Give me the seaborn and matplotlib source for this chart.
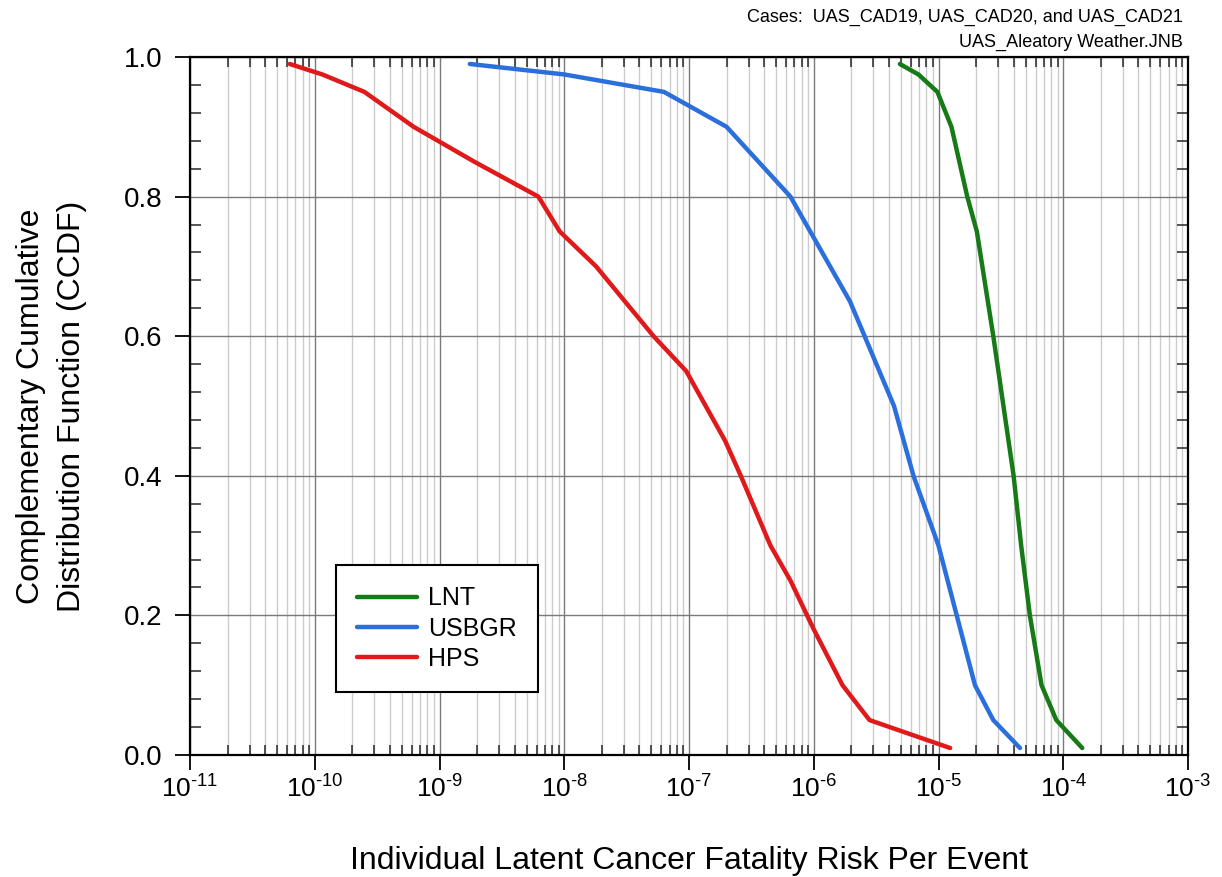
import numpy as np
import pandas as pd
import matplotlib
matplotlib.use('Agg')
import matplotlib.pyplot as plt
import matplotlib.ticker as mticker
import seaborn as sns

# CCDF curves
lnt_risk = [4.9e-6, 6.9e-6, 9.8e-6, 1.27e-5, 1.7e-5, 2.03e-5, 2.75e-5, 4.0e-5, 4.6e-5, 5.4e-5, 6.7e-5, 8.8e-5, 1.42e-4]
lnt_ccdf = [0.99, 0.975, 0.95, 0.90, 0.80, 0.75, 0.60, 0.40, 0.30, 0.20, 0.10, 0.05, 0.01]

usbgr_risk = [1.75e-9, 1.0e-8, 6.3e-8, 2.0e-7, 6.5e-7, 1.95e-6, 4.4e-6, 6.3e-6, 1.0e-5, 1.4e-5, 1.96e-5, 2.75e-5, 4.5e-5]
usbgr_ccdf = [0.99, 0.975, 0.95, 0.90, 0.80, 0.65, 0.50, 0.40, 0.30, 0.20, 0.10, 0.05, 0.01]

hps_risk = [6.3e-11, 1.15e-10, 2.5e-10, 6.2e-10, 1.9e-9, 6.2e-9, 9.2e-9, 1.8e-8, 5.2e-8, 9.5e-8,
            1.95e-7, 2.6e-7, 4.5e-7, 6.5e-7, 1.0e-6, 1.7e-6, 2.8e-6, 1.24e-5]
hps_ccdf = [0.99, 0.975, 0.95, 0.90, 0.85, 0.80, 0.75, 0.70, 0.60, 0.55,
            0.45, 0.40, 0.30, 0.25, 0.18, 0.10, 0.05, 0.01]

series_names = ['LNT', 'USBGR', 'HPS']
series_colors = ['#167a16', '#2b6fdc', '#e0191b']

dfs = []
for name, xs, ys in zip(series_names, [lnt_risk, usbgr_risk, hps_risk], [lnt_ccdf, usbgr_ccdf, hps_ccdf]):
    dfs.append(pd.DataFrame({'risk': xs, 'ccdf': ys, 'model': name}))
data = pd.concat(dfs, ignore_index=True)

sns.set_theme(style="white")
plt.rcParams['font.family'] = ['Liberation Sans', 'DejaVu Sans']
plt.rcParams['text.color'] = 'black'
plt.rcParams['axes.labelcolor'] = 'black'
plt.rcParams['mathtext.fontset'] = 'custom'
plt.rcParams['mathtext.rm'] = 'Liberation Sans'
plt.rcParams['mathtext.it'] = 'Liberation Sans:italic'
plt.rcParams['mathtext.default'] = 'regular'


def decade_label(val, pos):
    exp = int(round(np.log10(val)))
    return r'$10^{\text{%s}}$' % str(exp)


fig = plt.figure(figsize=(12.22, 8.77), dpi=100)
ax = fig.add_axes([190 / 1222, 122 / 877, 998 / 1222, 698 / 877])

sns.lineplot(data=data, x='risk', y='ccdf', hue='model', hue_order=series_names,
             palette=series_colors, sort=False, estimator=None, linewidth=3.2, ax=ax)

ax.set_xscale('log')
ax.set_xlim(1e-11, 1e-3)
ax.set_ylim(0, 1.0)
ax.xaxis.set_major_locator(mticker.LogLocator(base=10, numticks=20))
ax.xaxis.set_minor_locator(mticker.LogLocator(base=10, subs=range(2, 10), numticks=100))
ax.xaxis.set_major_formatter(mticker.FuncFormatter(decade_label))
ax.xaxis.set_minor_formatter(mticker.NullFormatter())
ax.yaxis.set_major_locator(mticker.MultipleLocator(0.2))
ax.yaxis.set_minor_locator(mticker.MultipleLocator(0.04))
ax.yaxis.set_major_formatter(mticker.FormatStrFormatter('%.1f'))

ax.grid(True, which='major', axis='both', color='#7a7a7a', linewidth=1.0)
ax.grid(True, which='minor', axis='x', color='#cccccc', linewidth=1.0)
ax.set_axisbelow(True)

for s in ax.spines.values():
    s.set_color('black')
    s.set_linewidth(1.6)

ax.tick_params(axis='both', which='major', colors='black', width=1.3,
               direction='out', length=11, bottom=True, left=True)
ax.tick_params(axis='x', which='major', pad=4, labelsize=19)
ax.tick_params(axis='y', which='major', pad=9, labelsize=20)
ax.tick_params(axis='x', which='minor', direction='in', length=7, width=1.1, top=True, bottom=True)
ax.tick_params(axis='y', which='minor', direction='in', length=8, width=1.1, left=True, right=True)

ax.set_xlabel('Individual Latent Cancer Fatality Risk Per Event', fontsize=23)
ax.set_ylabel('Complementary Cumulative\nDistribution Function (CCDF)', fontsize=23, linespacing=1.5)
ax.xaxis.set_label_coords(0.5, -0.13)
ax.yaxis.set_label_coords(-0.103, 0.5)

leg = ax.legend(loc='lower left', bbox_to_anchor=(0.146, 0.09), borderaxespad=0, fontsize=18,
                frameon=True, fancybox=False, edgecolor='black', framealpha=1,
                handlelength=2.4, handletextpad=0.45, labelspacing=0.25, borderpad=0.85, title=None)
leg.get_frame().set_linewidth(1.5)
for line in leg.get_lines():
    line.set_linewidth(3.2)

fig.text(1183 / 1222, 1 - 17 / 877, 'Cases:  UAS_CAD19, UAS_CAD20, and UAS_CAD21',
         ha='right', va='center', fontsize=13)
fig.text(1183 / 1222, 1 - 42 / 877, 'UAS_Aleatory Weather.JNB',
         ha='right', va='center', fontsize=13)

fig.savefig('out.png', dpi=100)
plt.close(fig)
